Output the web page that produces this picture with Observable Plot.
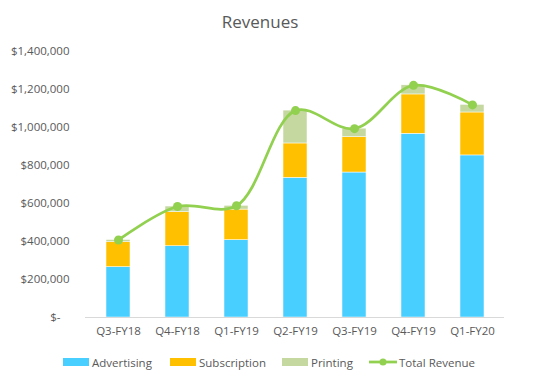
<!DOCTYPE html>
<html>
<head>
<meta charset="utf-8">
<script src="https://cdn.jsdelivr.net/npm/d3@7"></script>
<script src="https://cdn.jsdelivr.net/npm/@observablehq/plot@0.6"></script>
<style>
  html, body { margin: 0; padding: 0; background: #fff; }
  #wrap { position: relative; width: 535px; height: 381px; font-family: "Open Sans", sans-serif; color: #595959; }
  #title { position: absolute; left: 0; top: 8px; width: 520px; text-align: center; font-size: 17px; line-height: 28px; }
  #chart { position: absolute; left: 0; top: 40px; }
  #legend { position: absolute; left: 0; top: 352px; width: 535px; height: 20px; font-size: 11.5px; }
  .item { position: absolute; top: 0; display: flex; align-items: center; height: 20px; }
  .sw { width: 26px; height: 8px; margin-right: 3px; }
</style>
</head>
<body>
<div id="wrap">
  <div id="title">Revenues</div>
  <div id="chart"></div>
  <div id="legend"></div>
</div>
<script>
const quarters = ["Q3-FY18", "Q4-FY18", "Q1-FY19", "Q2-FY19", "Q3-FY19", "Q4-FY19", "Q1-FY20"];
const advertising = [265000, 375000, 407000, 735000, 763000, 967000, 853000];
const subscription = [131000, 179000, 161000, 181000, 186000, 207000, 226000];
const printing = [12000, 30000, 20000, 173000, 45000, 48000, 40000];
const seriesNames = ["Advertising", "Subscription", "Printing"];
const seriesColors = ["#48CEFF", "#FFC000", "#C4D8A0"];
const lineName = "Total Revenue";
const lineColor = "#92D050";
const yTicks = [0, 200000, 400000, 600000, 800000, 1000000, 1200000, 1400000];

const seriesValues = [advertising, subscription, printing];
const stacked = [];
quarters.forEach((q, i) => {
  seriesNames.forEach((s, j) => stacked.push({quarter: q, series: s, value: seriesValues[j][i]}));
});
const totals = quarters.map((q, i) => ({quarter: q, total: advertising[i] + subscription[i] + printing[i]}));

const fmt = v => v === 0 ? "$-\u00a0\u00a0\u00a0" : "$" + d3.format(",")(v);

const chart = Plot.plot({
  width: 535,
  height: 305,
  marginLeft: 85,
  marginRight: 31,
  marginTop: 11,
  marginBottom: 28,
  style: {fontFamily: "Open Sans, sans-serif", fontSize: "11.5px", color: "#595959", background: "transparent"},
  x: {domain: quarters, paddingInner: 0.6, paddingOuter: 0.3, label: null, tickSize: 0, tickPadding: 9},
  y: {domain: [0, 1400000], ticks: yTicks, tickFormat: fmt, tickSize: 0, tickPadding: 16, label: null},
  color: {domain: seriesNames, range: seriesColors},
  marks: [
    Plot.barY(stacked, {x: "quarter", y: "value", fill: "series", order: seriesNames, stroke: "#fff", strokeWidth: 0.5}),
    Plot.ruleY([0], {stroke: "#D9D9D9", strokeWidth: 1}),
    Plot.line(totals, {x: "quarter", y: "total", stroke: lineColor, strokeWidth: 2.75, curve: "catmull-rom"}),
    Plot.dot(totals, {x: "quarter", y: "total", fill: lineColor, r: 4.5})
  ]
});
document.getElementById("chart").appendChild(chart);

const legend = document.getElementById("legend");
const legendX = [63, 170, 282];
seriesNames.forEach((s, j) => {
  const it = document.createElement("div");
  it.className = "item";
  it.style.left = legendX[j] + "px";
  it.innerHTML = `<div class="sw" style="background:${seriesColors[j]}"></div><span>${s}</span>`;
  legend.appendChild(it);
});
const li = document.createElement("div");
li.className = "item";
li.style.left = "369px";
li.innerHTML = `<svg width="28" height="10" style="margin-right:2px"><line x1="0" x2="28" y1="5" y2="5" stroke="${lineColor}" stroke-width="2.75"/><circle cx="14" cy="5" r="3.5" fill="${lineColor}"/></svg><span>${lineName}</span>`;
legend.appendChild(li);
</script>
</body>
</html>
